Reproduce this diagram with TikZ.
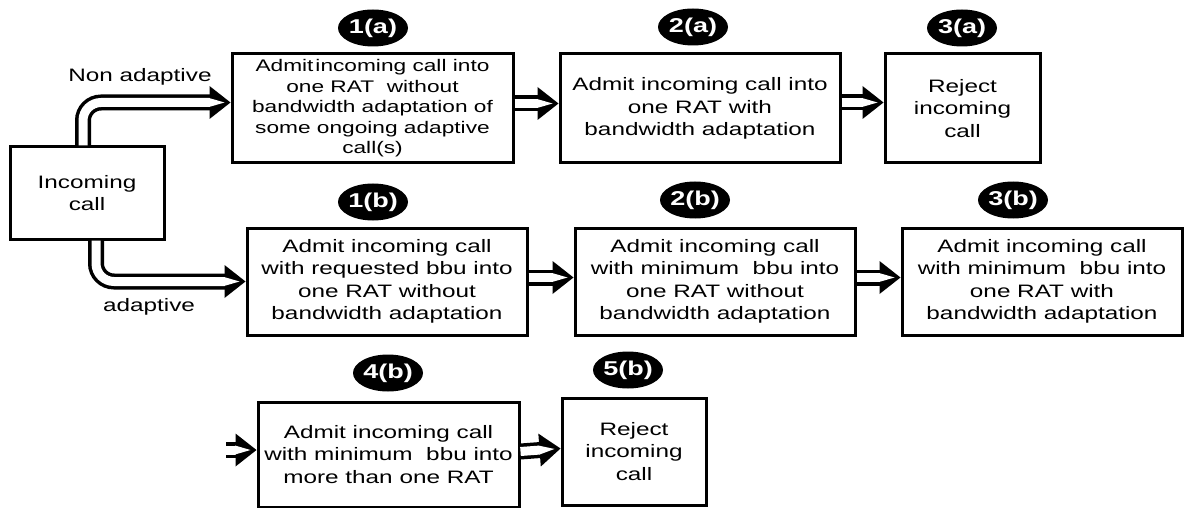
\documentclass[tikz,border=0pt]{standalone}
\usepackage{fontspec}
\setmainfont{Liberation Sans}[FakeStretch=1.35]
\usetikzlibrary{arrows.meta,shapes.geometric}

% Hollow-core head for the double-line connectors
\pgfdeclarearrow{
  name = DblHead,
  cache = false,
  setup code = {
    \pgfarrowssettipend{0pt}
    \pgfarrowssetlineend{-20pt}
    \pgfarrowssetbackend{-21pt}
    \pgfarrowssetvisualbackend{-21pt}
    \pgfarrowshullpoint{0pt}{0pt}
    \pgfarrowsupperhullpoint{-21pt}{16.5pt}
  },
  drawing code = {
    \pgfscope
    \pgfsetfillcolor{black}
    \pgfpathmoveto{\pgfqpoint{0pt}{0pt}}
    \pgfpathlineto{\pgfqpoint{-21pt}{16.5pt}}
    \pgfpathlineto{\pgfqpoint{-21pt}{-16.5pt}}
    \pgfpathclose
    \pgfusepathqfill
    \pgfsetfillcolor{white}
    \pgfpathmoveto{\pgfqpoint{-21.5pt}{4.5pt}}
    \pgfpathlineto{\pgfqpoint{-6pt}{0pt}}
    \pgfpathlineto{\pgfqpoint{-21.5pt}{-4.5pt}}
    \pgfpathclose
    \pgfusepathqfill
    \endpgfscope
  }
}

\begin{document}
\begin{tikzpicture}[x=1pt,y=-1pt,
  box/.style={draw, line width=3pt, align=center, inner sep=0pt,
    font=\fontsize{18}{22.5}\selectfont},
  badge/.style={ellipse, fill=black, text=white, minimum width=70pt,
    minimum height=37pt, inner sep=0pt, font=\bfseries\fontsize{20}{20}\selectfont},
  dbl/.style={double, double distance=9pt, line width=3.5pt, -{DblHead}},
  lbl/.style={font=\fontsize{18}{22}\selectfont}]
\useasboundingbox (0,0) rectangle (1184,508);

% source box and branch labels
\node[box, minimum width=154pt, minimum height=92pt] (inc) at (87,193) {Incoming\\call};
\node[lbl] (lna) at (140,77) {Non adaptive};
\node[lbl] (lad) at (149,307) {adaptive};

% non-adaptive chain
\node[box, minimum width=281pt, minimum height=109pt,
  font=\fontsize{16.8}{20.5}\selectfont] (a1) at (372.5,108.5)
  {Admit\hspace{0.12em}incoming call into\\one RAT\ \ without\\bandwidth adaptation of\\some ongoing adaptive\\call(s)};
\node[box, minimum width=280pt, minimum height=109pt] (a2) at (700,108.5)
  {Admit incoming call into\\one RAT with\\bandwidth adaptation};
\node[box, minimum width=155pt, minimum height=109pt] (a3) at (962.5,108.5)
  {Reject\\incoming\\call};

% adaptive chain
\node[box, minimum width=280pt, minimum height=107pt] (b1) at (387,281.5)
  {Admit incoming call\\with requested bbu into\\one RAT without\\bandwidth adaptation};
\node[box, minimum width=280pt, minimum height=107pt] (b2) at (715,281.5)
  {Admit incoming call\\with minimum\ \ bbu into\\one RAT without\\bandwidth adaptation};
\node[box, minimum width=280pt, minimum height=107pt] (b3) at (1042,281.5)
  {Admit incoming call\\with minimum\ \ bbu into\\one RAT with\\bandwidth adaptation};
\node[box, minimum width=261pt, minimum height=105pt] (b4) at (388.5,454.5)
  {Admit incoming call\\with minimum\ \ bbu into\\more than one RAT};
\node[box, minimum width=144pt, minimum height=107pt] (b5) at (634,451.5)
  {Reject\\incoming\\call};

% step badges
\node[badge] (ka1) at (373,28) {1(a)};
\node[badge] (ka2) at (693,27) {2(a)};
\node[badge] (ka3) at (962,28) {3(a)};
\node[badge] (kb1) at (373,202) {1(b)};
\node[badge] (kb2) at (695,200) {2(b)};
\node[badge] (kb3) at (1013,200) {3(b)};
\node[badge] (kb4) at (388,373) {4(b)};
\node[badge] (kb5) at (628,370) {5(b)};

% connectors
\draw[dbl, rounded corners=18pt] ([xshift=-4pt]inc.north) |- ([yshift=6pt]a1.west);
\draw[dbl, rounded corners=18pt] ([xshift=9pt]inc.south) |- (b1.west);
\draw[dbl] ([yshift=5pt]a1.east) -- ([yshift=5pt]a2.west);
\draw[dbl] ([yshift=6pt]a2.east) -- ([yshift=6pt]a3.west);
\draw[dbl] ([yshift=4pt]b1.east) -- ([yshift=4pt]b2.west);
\draw[dbl] ([yshift=4pt]b2.east) -- ([yshift=4pt]b3.west);
\coordinate (in4) at (226,450);
\draw[dbl] (in4) -- (in4 -| b4.west);
\draw[dbl] ([yshift=3pt]b4.east) -- ([yshift=3pt]b5.west);
\end{tikzpicture}
\end{document}
